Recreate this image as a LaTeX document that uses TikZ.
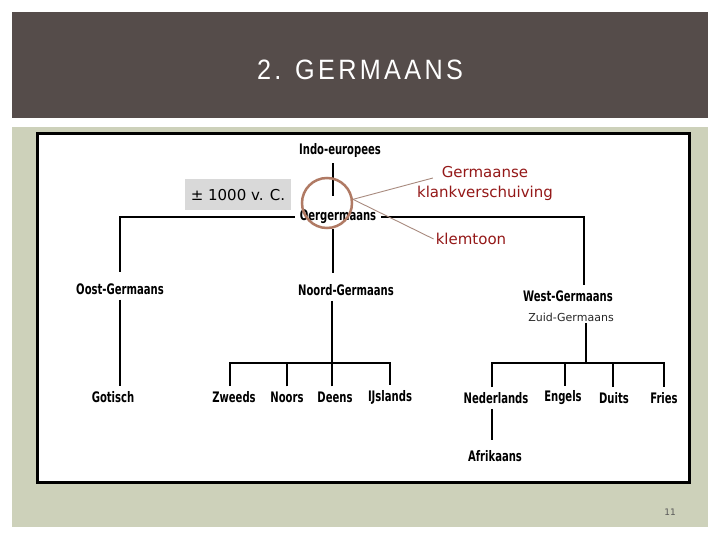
\documentclass[tikz,border=0pt]{standalone}
\usepackage{fontspec}
\setmainfont{DejaVu Sans}
\newfontfamily\treefont{DejaVu Sans Condensed}[FakeStretch=0.77]
\newfontfamily\titlefont{Liberation Sans}[LetterSpace=12,FakeStretch=0.9]
\definecolor{header}{HTML}{554C4A}
\definecolor{panel}{HTML}{CDD1BA}
\definecolor{datebox}{HTML}{D9D9D9}
\definecolor{ringcol}{HTML}{B07A64}
\definecolor{note}{HTML}{941818}
\definecolor{pointer}{HTML}{A88A7E}
\begin{document}
\begin{tikzpicture}[x=1pt, y=-1pt,
        lang/.style={font=\treefont\bfseries\fontsize{14.5}{14.5}\selectfont, inner sep=5pt},
        branch/.style={line width=2.6pt},
        remark/.style={font=\fontsize{15}{20}\selectfont, text=note, align=center, inner sep=2pt}]
        % Slide background
            \useasboundingbox (0,0) rectangle (720,540);
            \fill[white] (0,0) rectangle (720,540);
            \fill[header] (12,12) rectangle (708,118);
            \fill[panel] (12,127) rectangle (708,527);
            \draw[line width=3pt, fill=white] (37.5,133.5) rectangle (689.5,482);
            \node[text=white, font=\titlefont\fontsize{28}{28}\selectfont] (title) at (360,70) {2. GERMAANS};
            \node[text=black!65, font=\fontsize{9}{9}\selectfont] (page) at (670,512) {11};
        % Top of the tree
            \node[lang] (ie)  at (340,151) {Indo-europees};
            \node[lang] (oer) at (338,217) {Oergermaans};
            \node[fill=datebox, minimum width=106pt, minimum height=31pt, inner sep=0pt, font=\fontsize{15}{15}\selectfont] (date) at (238,195) {± 1000 v. C.};
        % Three branches
            \node[lang] (oost)  at (120,289) {Oost-Germaans};
            \node[lang] (noord) at (346,290) {Noord-Germaans};
            \node[lang] (west)  at (568,296) {West-Germaans};
            \node[font=\fontsize{11}{11}\selectfont, text=black!85, inner sep=2pt] (zuid) at (571,317) {Zuid-Germaans};
        % Languages
            \node[lang] (gotisch)    at (113,397) {Gotisch};
            \node[lang] (zweeds)     at (234,397) {Zweeds};
            \node[lang] (noors)      at (287,397) {Noors};
            \node[lang] (deens)      at (335,397) {Deens};
            \node[lang] (ijslands)   at (390,397) {IJslands};
            \node[lang] (nederlands) at (496,398) {Nederlands};
            \node[lang] (engels)     at (563,398) {Engels};
            \node[lang] (duits)      at (614,398) {Duits};
            \node[lang] (fries)      at (664,398) {Fries};
            \node[lang] (afrikaans)  at (495,456) {Afrikaans};
        % Fork points
            \coordinate (nfork) at (332,363);
            \coordinate (wfork) at (586,363);
        % Branch lines
            \draw[branch] ([xshift=-7pt]ie.south) -- ([xshift=-5pt,yshift=9pt]oer.north);
            \draw[branch, shorten >=6pt] (oer.west) -| (oost.north);
            \draw[branch] (oer.east) -| ([xshift=16pt]west.north);
            \draw[branch] ([xshift=-5pt]oer.south) -- ([xshift=-5pt,yshift=6pt]oer.south |- noord.north);
            \draw[branch] (oost.south) -- (oost.south |- gotisch.north);
            \draw[branch] (noord.south -| nfork) -- (nfork);
            \draw[branch] ([xshift=-4pt]zweeds.north) |- (nfork) -| (ijslands.north);
            \draw[branch] (noors.north) -- (noors.north |- nfork);
            \draw[branch] (deens.north -| nfork) -- (nfork);
            \draw[branch] (zuid.south -| wfork) -- (wfork);
            \draw[branch] ([xshift=-4pt]nederlands.north) |- (wfork) -| (fries.north);
            \draw[branch] ([xshift=2pt]engels.north) -- ([xshift=2pt]engels.north |- wfork);
            \draw[branch] ([xshift=-1pt]duits.north) -- ([xshift=-1pt]duits.north |- wfork);
            \draw[branch, shorten >=5pt] ([xshift=-4pt]nederlands.south) -- ([xshift=-3pt]afrikaans.north);
        % Remarks
            \node[remark] (germ) at (485,183) {Germaanse\\klankverschuiving};
            \node[remark] (klem) at (471,239) {klemtoon};
            \node[circle, draw=ringcol, line width=2.5pt, minimum size=50pt, inner sep=0pt] (ring) at (327,203) {};
            \draw[pointer, line width=0.9pt] (ring.8) -- ([xshift=18pt,yshift=5pt]germ.west);
            \draw[pointer, line width=0.9pt] (ring.8) -- (klem.west);
\end{tikzpicture}
\end{document}
